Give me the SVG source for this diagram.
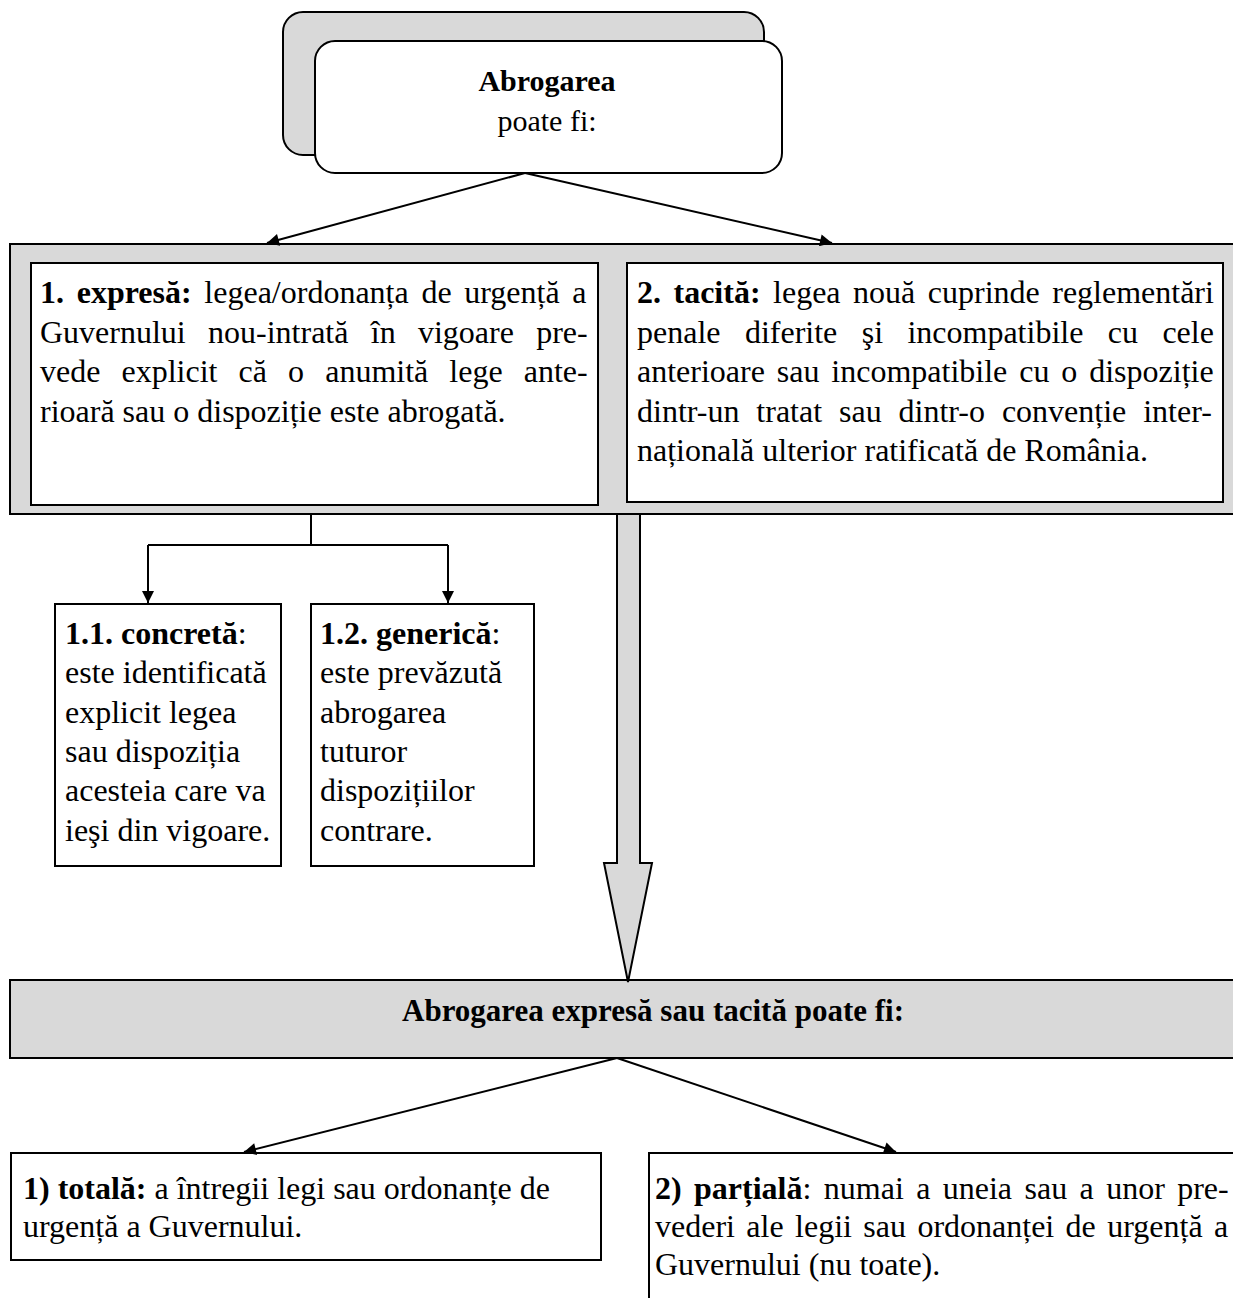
<svg xmlns="http://www.w3.org/2000/svg" width="1233" height="1298" viewBox="0 0 1233 1298">
<style>
.t{font-family:"Liberation Serif","Times New Roman",serif;font-size:32px;fill:#000}
.h{font-family:"Liberation Serif","Times New Roman",serif;font-size:31px;fill:#000}
.r{font-family:"Liberation Serif","Times New Roman",serif;font-size:30px;fill:#000}
.b{font-weight:bold}
.box{fill:#fff;stroke:#000;stroke-width:2}
.gray{fill:#d9d9d9;stroke:#000;stroke-width:2}
.ln{fill:none;stroke:#000;stroke-width:2}
</style>
<defs>
<marker id="ah" viewBox="0 0 10 10" refX="10" refY="5" markerWidth="15" markerHeight="12" markerUnits="userSpaceOnUse" orient="auto"><path d="M0,0 L10,5 L0,10 z" fill="#000"/></marker>
</defs>
<rect width="1233" height="1298" fill="#fff"/>

<g id="root">
<rect class="gray" x="283" y="12" width="481" height="143" rx="20"/>
<rect class="box" x="315" y="41" width="467" height="132" rx="20"/>
<text class="r b" x="547" y="91" text-anchor="middle">Abrogarea</text>
<text class="r" x="547" y="131" text-anchor="middle">poate fi:</text>
</g>

<g id="types">
<rect class="gray" x="10" y="244" width="1240" height="270"/>
</g>

<g id="expresa">
<rect class="box" x="31" y="263" width="567" height="242"/>
<text class="t" x="40" y="303" style="word-spacing:4.7px"><tspan class="b">1. expresă:</tspan> legea/ordonanța de urgență a</text>
<text class="t" x="40" y="342.5" style="word-spacing:14.3px">Guvernului nou-intrată în vigoare pre-</text>
<text class="t" x="40" y="382" style="word-spacing:13.1px">vede explicit că o anumită lege ante-</text>
<text class="t" x="40" y="421.5">rioară sau o dispoziție este abrogată.</text>
</g>

<g id="tacita">
<rect class="box" x="627" y="263" width="596" height="239"/>
<text class="t" x="637" y="303" style="word-spacing:4.5px"><tspan class="b">2. tacită:</tspan> legea nouă cuprinde reglementări</text>
<text class="t" x="637" y="342.5" style="word-spacing:16.4px">penale diferite şi incompatibile cu cele</text>
<text class="t" x="637" y="382" style="word-spacing:3.9px">anterioare sau incompatibile cu o dispoziție</text>
<text class="t" x="637" y="421.5" style="word-spacing:8.9px">dintr-un tratat sau dintr-o convenție inter-</text>
<text class="t" x="637" y="461">națională ulterior ratificată de România.</text>
</g>

<g id="concreta">
<rect class="box" x="55" y="604" width="226" height="262"/>
<text class="t" x="65" y="644"><tspan class="b">1.1. concretă</tspan>:</text>
<text class="t" x="65" y="683.3">este identificată</text>
<text class="t" x="65" y="722.6">explicit legea</text>
<text class="t" x="65" y="761.9">sau dispoziția</text>
<text class="t" x="65" y="801.2">acesteia care va</text>
<text class="t" x="65" y="840.5">ieşi din vigoare.</text>
</g>

<g id="generica">
<rect class="box" x="311" y="604" width="223" height="262"/>
<text class="t" x="320" y="644"><tspan class="b">1.2. generică</tspan>:</text>
<text class="t" x="320" y="683.3">este prevăzută</text>
<text class="t" x="320" y="722.6">abrogarea</text>
<text class="t" x="320" y="761.9">tuturor</text>
<text class="t" x="320" y="801.2">dispozițiilor</text>
<text class="t" x="320" y="840.5">contrare.</text>
</g>

<g id="extent">
<rect class="gray" x="10" y="980" width="1240" height="78"/>
<text class="h b" x="653" y="1021" text-anchor="middle">Abrogarea expresă sau tacită poate fi:</text>
</g>

<g id="totala">
<rect class="box" x="11" y="1153" width="590" height="107"/>
<text class="t" x="23" y="1199"><tspan class="b">1) totală:</tspan> a întregii legi sau ordonanțe de</text>
<text class="t" x="23" y="1237">urgență a Guvernului.</text>
</g>

<g id="partiala">
<path class="ln" d="M649,1300 V1153 H1240"/>
<text class="t" x="655" y="1199" style="word-spacing:4.4px"><tspan class="b">2) parțială</tspan>: numai a uneia sau a unor pre-</text>
<text class="t" x="655" y="1237" style="word-spacing:3.4px">vederi ale legii sau ordonanței de urgență a</text>
<text class="t" x="655" y="1275">Guvernului (nu toate).</text>
</g>

<g id="connectors">
<line class="ln" x1="525" y1="173" x2="267" y2="243" marker-end="url(#ah)"/>
<line class="ln" x1="525" y1="173" x2="832" y2="243" marker-end="url(#ah)"/>
<polyline class="ln" points="311,514 311,545"/>
<polyline class="ln" points="148,545 448,545"/>
<line class="ln" x1="148" y1="545" x2="148" y2="603" marker-end="url(#ah)"/>
<line class="ln" x1="448" y1="545" x2="448" y2="603" marker-end="url(#ah)"/>
<polygon class="gray" points="617,514 617,863 604,863 628,982 652,863 640,863 640,514"/>
<line class="ln" x1="617" y1="1058" x2="244" y2="1152" marker-end="url(#ah)"/>
<line class="ln" x1="617" y1="1058" x2="896" y2="1152" marker-end="url(#ah)"/>
</g>
</svg>
